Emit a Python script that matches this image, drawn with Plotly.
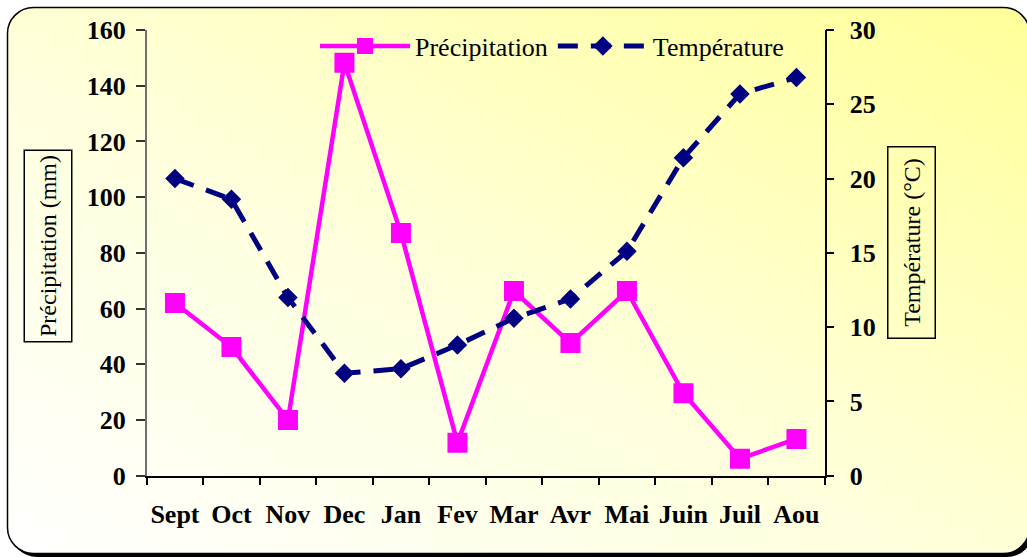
import base64
import plotly.graph_objects as go

months = ["Sept", "Oct", "Nov", "Dec", "Jan", "Fev", "Mar", "Avr", "Mai", "Juin", "Juil", "Aou"]
precipitation = [62, 46.2, 20, 148.2, 87.1, 11.8, 66.3, 47.6, 66.3, 29.6, 6.1, 13.2]
temperature = [20.0, 18.6, 12.0, 6.9, 7.2, 8.8, 10.6, 11.9, 15.1, 21.4, 25.7, 26.8]
precip_ticks = list(range(0, 161, 20))
temp_ticks = list(range(0, 31, 5))

W, H = 1027, 557
FONT = "Liberation Serif"

svg = f'''<svg xmlns="http://www.w3.org/2000/svg" width="{W}" height="{H}" viewBox="0 0 {W} {H}">
<defs><linearGradient id="g" x1="0" y1="1" x2="1" y2="0">
<stop offset="0" stop-color="#FFFFFF"/><stop offset="0.45" stop-color="#FFFFDD"/><stop offset="1" stop-color="#FFFF99"/>
</linearGradient></defs>
<rect x="11" y="11" width="1022" height="546" rx="26" ry="26" fill="#000000"/>
<rect x="7.5" y="7.5" width="1022" height="546" rx="26" ry="26" fill="url(#g)" stroke="#000000" stroke-width="1.5"/>
</svg>'''
bg_src = "data:image/svg+xml;base64," + base64.b64encode(svg.encode()).decode()

fig = go.Figure()
fig.add_trace(go.Scatter(
    x=months, y=precipitation, name="Précipitation", mode="lines+markers",
    line=dict(color="#FF00FF", width=4.5),
    marker=dict(symbol="square", size=20, color="#FF00FF"),
    xaxis="x", yaxis="y"))
fig.add_trace(go.Scatter(
    x=months, y=temperature, name="Température", mode="lines+markers",
    line=dict(color="#000080", width=5, dash="20px,13px"),
    marker=dict(symbol="diamond", size=15, color="#000080"),
    xaxis="x", yaxis="y2"))

x0, x1 = 146.7 / W, 824.7 / W
y0, y1 = 1 - 475.7 / H, 1 - 30 / H
tickfont = dict(family=FONT, size=26, color="black", weight="bold")

fig.update_layout(
    width=W, height=H,
    margin=dict(l=0, r=0, t=0, b=0, pad=0, autoexpand=False),
    paper_bgcolor="white", plot_bgcolor="rgba(0,0,0,0)",
    images=[dict(source=bg_src, xref="paper", yref="paper", x=0, y=1,
                 sizex=1, sizey=1, sizing="stretch", layer="below")],
    xaxis=dict(domain=[x0, x1], type="category", categoryorder="array", categoryarray=months,
               range=[-0.5, 11.5], showgrid=False, zeroline=False, automargin=False,
               showline=True, linecolor="black", linewidth=1.5,
               ticks="outside", ticklen=8, tickcolor="black", tickwidth=1.5, tickangle=0,
               tickson="boundaries", tickfont=tickfont, ticklabelstandoff=14),
    xaxis2=dict(overlaying="x", anchor="y", range=[-0.5, 11.5], tick0=-0.5, dtick=1, automargin=False,
                showgrid=False, zeroline=False, showline=False, showticklabels=False,
                ticks="inside", ticklen=8, tickcolor="black", tickwidth=1.5),
    yaxis=dict(domain=[y0, y1], range=[0, 160], tickvals=precip_ticks, showgrid=False, zeroline=False,
               showline=True, linecolor="#707070", linewidth=1.5, automargin=False,
               ticks="outside", ticklen=9, tickcolor="#333333", tickwidth=1.5,
               tickfont=tickfont, ticklabelstandoff=5),
    yaxis2=dict(overlaying="y", side="right", anchor="x", range=[0, 30], tickvals=temp_ticks,
                showgrid=False, zeroline=False, showline=True, linecolor="black", linewidth=1.5,
                ticks="outside", ticklen=8, tickcolor="black", tickwidth=1.5, automargin=False,
                tickfont=tickfont, ticklabelstandoff=10),
    yaxis3=dict(overlaying="y", side="left", anchor="x", range=[0, 160], tickvals=precip_ticks,
                showgrid=False, zeroline=False, showline=False, showticklabels=False, automargin=False,
                ticks="inside", ticklen=8, tickcolor="#333333", tickwidth=1.5),
    yaxis4=dict(overlaying="y", side="right", anchor="x", range=[0, 30], tickvals=temp_ticks,
                showgrid=False, zeroline=False, showline=False, showticklabels=False, automargin=False,
                ticks="inside", ticklen=8, tickcolor="black", tickwidth=1.5),
    legend=dict(orientation="h", x=315 / W, xanchor="left", y=1 - 46 / H, yanchor="middle",
                bgcolor="rgba(0,0,0,0)", font=dict(family=FONT, size=26, color="black"),
                itemwidth=90, tracegroupgap=0),
    showlegend=True,
    annotations=[
        dict(text="Précipitation (mm)", xref="paper", yref="paper", x=48 / W, y=1 - 246.5 / H,
             textangle=-90, showarrow=False, font=dict(family=FONT, size=24, color="black"),
             width=180, height=36,
             bordercolor="black", borderwidth=1.5, borderpad=5, xanchor="center", yanchor="middle"),
        dict(text="Température (°C)", xref="paper", yref="paper", x=911 / W, y=1 - 243 / H,
             textangle=-90, showarrow=False, font=dict(family=FONT, size=24, color="black"),
             width=180, height=36,
             bordercolor="black", borderwidth=1.5, borderpad=5, xanchor="center", yanchor="middle"),
    ],
)

fig.write_html("out.html", config={"displayModeBar": False},
               post_script="document.body.style.margin='0';document.body.style.overflow='hidden';")
